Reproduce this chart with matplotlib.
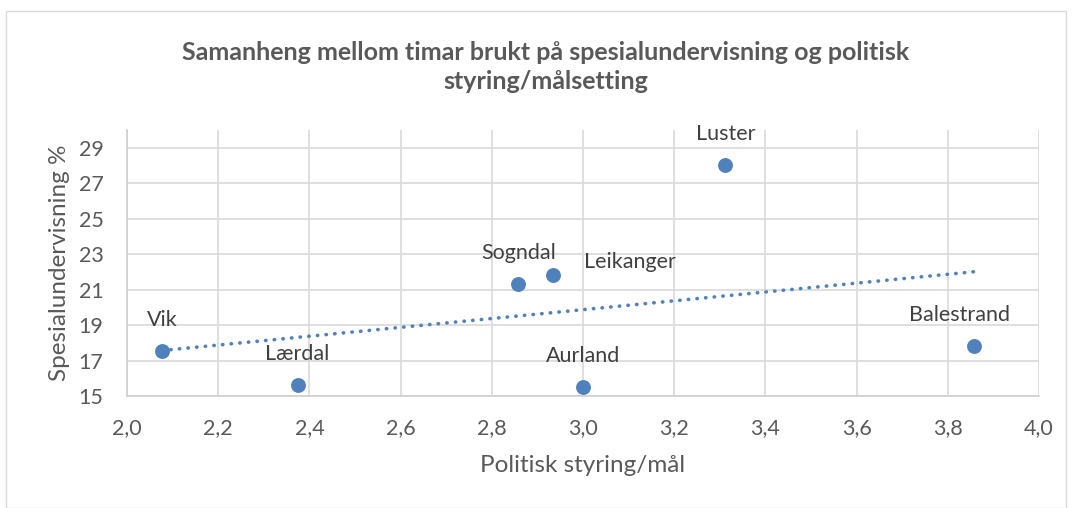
import numpy as np
import matplotlib
matplotlib.use("Agg")
import matplotlib.pyplot as plt
from matplotlib.patches import Rectangle
from matplotlib.ticker import FuncFormatter

# data
kommunar = ["Vik", "Lærdal", "Sogndal", "Leikanger", "Aurland", "Luster", "Balestrand"]
styring = [2.077, 2.374, 2.858, 2.934, 3.000, 3.312, 3.857]
spesialund = [17.54, 15.62, 21.31, 21.82, 15.52, 28.0, 17.80]

x_ticks = [2.0, 2.2, 2.4, 2.6, 2.8, 3.0, 3.2, 3.4, 3.6, 3.8, 4.0]
y_ticks = [15, 17, 19, 21, 23, 25, 27, 29]

title = "Samanheng mellom timar brukt på spesialundervisning og politisk\nstyring/målsetting"
x_label = "Politisk styring/mål"
y_label = "Spesialundervisning %"

# label nudges (pixels) where the labels are not centred above the point
label_shift = {"Leikanger": (77, -18), "Balestrand": (-14, 0)}

blue = "#4F81BD"
text_grey = "#595959"
grid_grey = "#D9D9D9"

plt.rcParams["font.family"] = ["Lato", "DejaVu Sans"]

fig = plt.figure(figsize=(10.72, 5.08), dpi=100)
fig.patches.append(Rectangle((6 / 1072, 0), 1060 / 1072, 497 / 508,
                             transform=fig.transFigure, fill=False,
                             edgecolor=grid_grey, linewidth=1))
ax = fig.add_axes([127 / 1072, 1 - 396 / 508, 912 / 1072, 266 / 508])

ax.scatter(styring, spesialund, s=115, color=blue, zorder=3, linewidths=0)

# linear trendline
k, m = np.polyfit(styring, spesialund, 1)
xs = np.array([min(styring), max(styring)])
ax.plot(xs, k * xs + m, color=blue, linewidth=2.6,
        linestyle=(0, (0.1, 2.3)), dash_capstyle="round", zorder=2)

for name, x, y in zip(kommunar, styring, spesialund):
    dx, dy = label_shift.get(name, (0, 0))
    ax.annotate(name, (x, y), xytext=(dx, 31 + dy), textcoords="offset pixels",
                ha="center", va="center", fontsize=15.5, color="#404040")

ax.set_xlim(2.0, 4.0)
ax.set_ylim(15, 30)
ax.set_xticks(x_ticks)
ax.set_yticks(y_ticks)
ax.xaxis.set_major_formatter(FuncFormatter(lambda v, p: f"{v:.1f}".replace(".", ",")))
ax.tick_params(length=0, labelsize=15.5, labelcolor=text_grey)
ax.tick_params(axis="x", pad=16)
ax.tick_params(axis="y", pad=17)
ax.grid(True, color=grid_grey, linewidth=1.2)
ax.set_axisbelow(True)
for side in ["top", "right"]:
    ax.spines[side].set_visible(False)
for side in ["left", "bottom"]:
    ax.spines[side].set_color("#CFCFCF")
    ax.spines[side].set_linewidth(1.2)

ax.set_xlabel(x_label, fontsize=17.5, color=text_grey)
ax.set_ylabel(y_label, fontsize=17.5, color=text_grey)
ax.xaxis.set_label_coords((583 - 127) / 912, (396 - 466) / 266)
ax.yaxis.set_label_coords((59 - 127) / 912, 0.5)
ax.xaxis.label.set_va("center")
ax.yaxis.label.set_va("center")

fig.text(546 / 1072, 1 - 67 / 508, title, ha="center", va="center",
         fontsize=18, fontweight="bold", color=text_grey, linespacing=1.35)

fig.savefig("out.png", dpi=100)
